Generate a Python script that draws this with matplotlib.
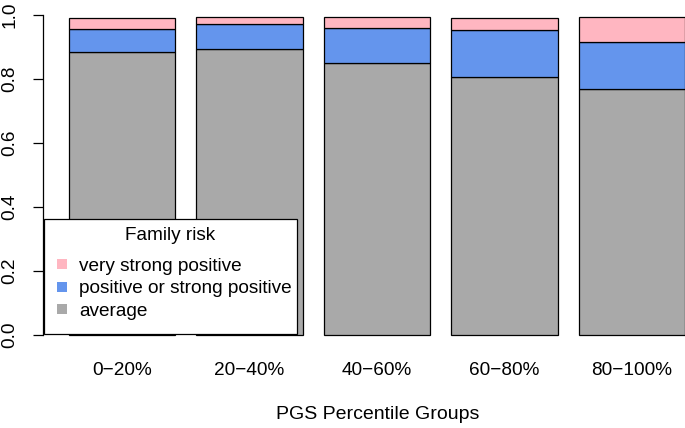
import matplotlib
matplotlib.use("Agg")
import matplotlib.pyplot as plt
from matplotlib.patches import Patch, Rectangle
from matplotlib.legend_handler import HandlerPatch
import numpy as np

plt.rcParams['font.family'] = ['Liberation Sans', 'DejaVu Sans']

groups = ['0\u221220%', '20\u221240%', '40\u221260%', '60\u221280%', '80\u2212100%']
average = [0.884, 0.894, 0.849, 0.807, 0.768]
positive = [0.072, 0.077, 0.111, 0.147, 0.147]
very_strong = [0.034, 0.022, 0.034, 0.036, 0.080]

series = [('average', average, '#A9A9A9'),
          ('positive or strong positive', positive, '#6495ED'),
          ('very strong positive', very_strong, '#FFB6C1')]

W, H = 685, 428


def fx(x):
    return x / W


def fy(y):
    return (H - y) / H


fig = plt.figure(figsize=(6.85, 4.28), dpi=100)
ax = fig.add_axes([fx(43), fy(347.8), 1 - fx(43), (347.8 - 2.2) / H])

# R barplot layout: width 1, space 0.2
centers = 0.7 + 1.2 * np.arange(len(groups))
bottom = np.zeros(len(groups))
for name, vals, col in series:
    ax.bar(centers, vals, width=1.0, bottom=bottom, color=col,
           edgecolor='black', linewidth=0.9)
    bottom += np.array(vals)

ax.set_xlim(-0.045, 6.0)
ax.set_ylim(-0.04, 1.04)
for s in ['top', 'right', 'bottom']:
    ax.spines[s].set_visible(False)
ax.spines['left'].set_bounds(0, 1)
ax.spines['left'].set_linewidth(0.9)
ax.set_yticks([0, 0.2, 0.4, 0.6, 0.8, 1.0])
ax.set_yticklabels(['0.0', '0.2', '0.4', '0.6', '0.8', '1.0'])
ax.tick_params(axis='y', length=7, width=0.9, labelsize=13.7, labelrotation=90, pad=11)
for lab in ax.get_yticklabels():
    lab.set_va('center')
ax.set_xticks(centers)
ax.set_xticklabels(groups)
ax.tick_params(axis='x', length=0, labelsize=13.7, pad=10)
ax.set_xlabel('PGS Percentile Groups', fontsize=14, labelpad=20)
ax.xaxis.label.set_x((377.5 - 43) / (W - 43))

# legend: white box + title, entries through ax.legend
ax.add_patch(Rectangle((fx(44), fy(334)), fx(297) - fx(44), fy(219) - fy(334),
                       transform=fig.transFigure, facecolor='white', edgecolor='black',
                       linewidth=0.9, clip_on=False, zorder=4))
ax.text(fx(170), fy(235), 'Family risk', transform=fig.transFigure, fontsize=13.7,
        ha='center', va='center', zorder=6)


def square(legend, orig_handle, xdescent, ydescent, width, height, fontsize):
    s = 10 * 72 / 100
    return Rectangle((-xdescent, -ydescent + (height - s) / 2), s, s)


handles = [Patch(facecolor=c, edgecolor='none') for _, _, c in series[::-1]]
labels = [n for n, _, _ in series[::-1]]
leg = ax.legend(handles, labels, loc='center left', frameon=False,
                bbox_to_anchor=(fx(57), fy(288.5)), bbox_transform=fig.transFigure,
                fontsize=13.7, borderpad=0, borderaxespad=0,
                handlelength=0.53, handleheight=0.7, handletextpad=0.63,
                labelspacing=0.27, handler_map={Patch: HandlerPatch(patch_func=square)})
leg.set_zorder(6)

fig.savefig('out.png', dpi=100)
